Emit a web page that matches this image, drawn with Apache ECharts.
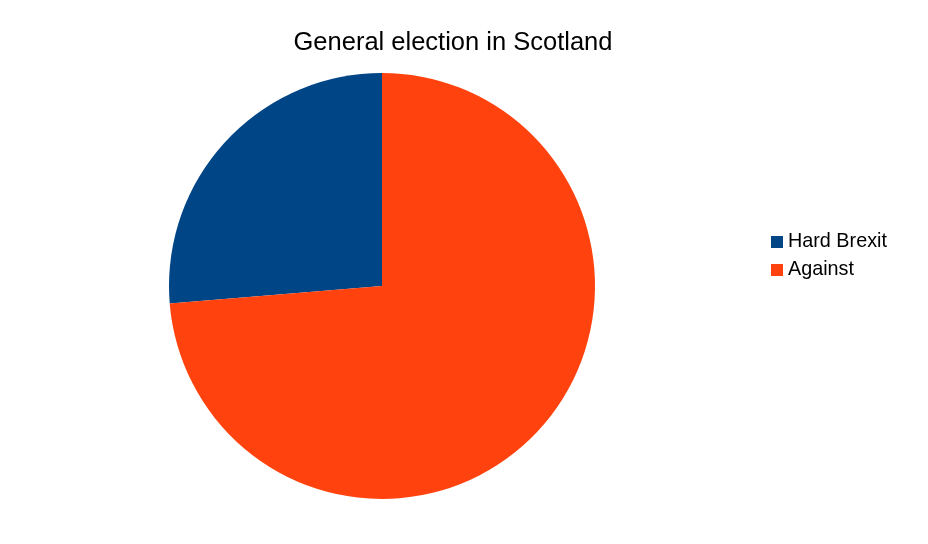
<!DOCTYPE html>
<html><head><meta charset="utf-8">
<script src="https://cdn.jsdelivr.net/npm/echarts@6/dist/echarts.min.js"></script>
<style>html,body{margin:0;padding:0;background:#fff}#c{width:928px;height:544px}</style>
</head><body><div id="c"></div>
<script>
const categories = ["Hard Brexit", "Against"];
const values = [26.3, 73.7];
const colors = ["#004586", "#ff420e"];
const titleText = "General election in Scotland";

const chart = echarts.init(document.getElementById('c'), null, {renderer:'canvas'});
chart.setOption({
  animation: false,
  backgroundColor: '#ffffff',
  color: colors,
  title: {
    text: titleText,
    left: 448, top: 25, textAlign: 'center',
    textStyle: {fontFamily: 'Liberation Sans', fontSize: 25.5, fontWeight: 'normal', color: '#000'}
  },
  legend: {
    orient: 'vertical', left: 766, top: 227,
    itemWidth: 12, itemHeight: 12, itemGap: 8,
    icon: 'rect',
    data: categories,
    textStyle: {fontFamily: 'Liberation Sans', fontSize: 19.8, color: '#000', padding: [0,0,0,0]}
  },
  series: [{
    type: 'pie',
    center: [382, 286],
    radius: [0, 213],
    startAngle: 90,
    clockwise: false,
    label: {show: false},
    labelLine: {show: false},
    emphasis: {disabled: true},
    itemStyle: {borderWidth: 0},
    data: categories.map((n, i) => ({name: n, value: values[i]}))
  }]
});
</script></body></html>
